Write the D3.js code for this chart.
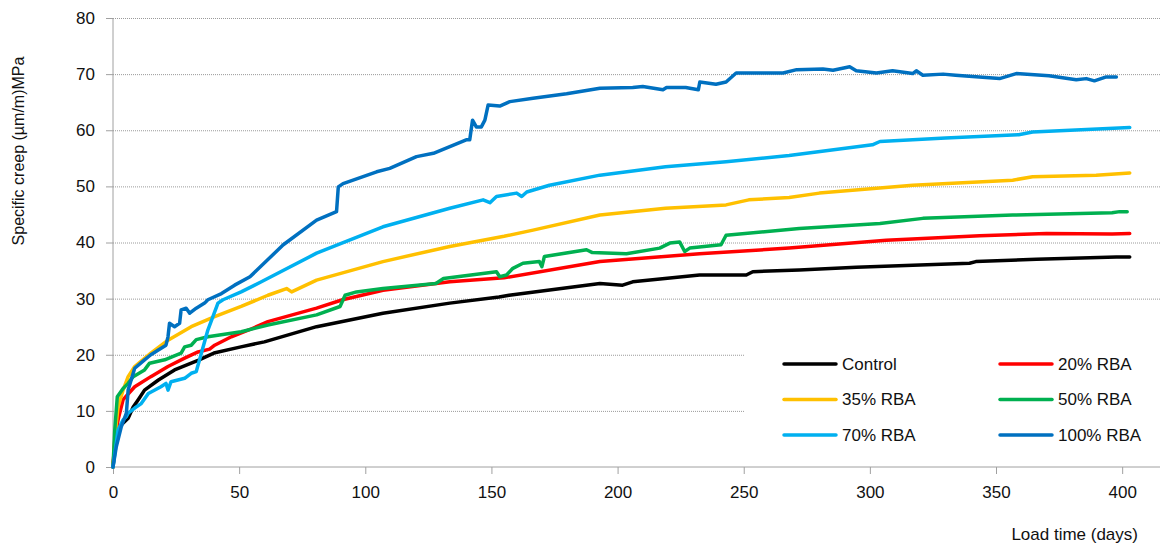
<!DOCTYPE html>
<meta charset="utf-8">
<script src="https://d3js.org/d3.v7.min.js"></script>
<style>
  body { margin: 0; background: #fff; }
  text { font-family: "Liberation Sans", Arial, sans-serif; fill: #111; }
</style>
<div id="chart"></div>
<script>

// data (day, specific creep)
const controlDays = [0, 1, 2.6, 6, 8, 10, 12.5, 18, 24.4, 33.7, 40, 50.7, 60, 80.7, 107, 133.5, 153, 157, 193, 202, 206, 232.5, 251, 253.6, 272, 294.6, 339.5, 342, 366, 397.7, 403];
const controlVals = [0, 5, 7.2, 8.7, 10.7, 12, 13.7, 15.5, 17.3, 19, 20.3, 21.4, 22.3, 25, 27.4, 29.2, 30.3, 30.6, 32.7, 32.4, 33, 34.2, 34.2, 34.8, 35.1, 35.6, 36.3, 36.6, 37, 37.4, 37.4];

const rba20Days = [0, 0.7, 2, 4, 8.6, 15, 21.8, 28.4, 33.7, 38.3, 40.3, 46.9, 54.3, 61.4, 80.7, 91, 107, 133.5, 155, 193, 232.5, 268, 306.5, 343.5, 370, 396, 403];
const rba20Vals = [0, 4.8, 8.4, 12, 14.3, 16.1, 17.9, 19.4, 20.5, 21, 21.7, 23.2, 24.5, 25.9, 28.3, 29.8, 31.5, 33, 33.7, 36.6, 38, 39, 40.4, 41.2, 41.6, 41.5, 41.6];

const rba35Days = [0, 1.3, 2, 4, 6, 8.6, 15, 21.8, 31, 40.3, 50.8, 61.4, 68.8, 70.8, 80.7, 107, 133.5, 155, 166.5, 193, 219, 243, 252, 268, 280, 317, 356.6, 364.5, 389.7, 403];
const rba35Vals = [0, 7.8, 10.7, 13.7, 16.1, 17.9, 20.3, 22.6, 25, 26.8, 28.6, 30.6, 31.8, 31.2, 33.3, 36.6, 39.3, 41.1, 42.2, 44.9, 46.1, 46.7, 47.6, 48, 48.8, 50.2, 51.1, 51.7, 52, 52.4];

const rba50Days = [0, 0.7, 1.7, 4, 6, 8, 12.5, 14.5, 20.5, 27, 28.4, 31, 33, 37.6, 50.8, 61.4, 80.7, 90, 92, 96.5, 107, 128, 131, 152, 153.3, 156, 158.5, 162.5, 169, 170, 171, 187.7, 190, 203.5, 216.7, 220.7, 224.6, 226.6, 228.6, 241, 243, 272, 304, 321, 356.6, 396, 399, 402];
const rba50Vals = [0, 6.6, 12.5, 14, 14.9, 16.1, 17.3, 18.5, 19.1, 20.3, 21.4, 21.7, 22.7, 23.2, 24.1, 25.3, 27.1, 28.6, 30.6, 31.2, 31.8, 32.7, 33.6, 34.8, 33.9, 34.2, 35.4, 36.3, 36.6, 35.7, 37.5, 38.7, 38.2, 38, 39, 39.9, 40.1, 38.4, 39, 39.6, 41.3, 42.5, 43.4, 44.3, 44.9, 45.3, 45.5, 45.5];

const rba70Days = [0, 2, 4, 5.3, 6, 8.6, 11.2, 14, 19, 21, 21.8, 23, 28.4, 31, 33, 34.3, 37.6, 41.6, 43.6, 50.8, 58.8, 80.7, 107, 133.5, 146.7, 149.4, 152, 160, 162, 164, 173, 193, 219, 243, 268, 301, 304, 330, 359, 364.5, 403];
const rba70Vals = [0, 6.6, 8.4, 9, 9.6, 10.5, 11.3, 13.1, 14.3, 14.9, 13.7, 15.2, 15.8, 16.7, 17, 19.1, 24.4, 29.2, 29.8, 31.2, 33, 38.1, 42.8, 46.1, 47.6, 47.1, 48.2, 48.8, 48.2, 49, 50.2, 52, 53.5, 54.4, 55.5, 57.4, 58, 58.6, 59.2, 59.7, 60.5];

const rba100Days = [0, 1.3, 3.3, 5.3, 6, 8.6, 12.5, 15, 17.8, 21, 21.8, 22.4, 24.4, 26.4, 27, 29, 30.4, 33, 36.3, 37.6, 43, 48.2, 54.3, 67.5, 80.7, 88.6, 89.3, 91.2, 104.5, 109.7, 120.3, 127, 140, 141.4, 142.5, 144, 146, 147.4, 148.7, 153.3, 157.3, 166.5, 179.8, 193, 206, 210, 218, 219.4, 227, 232, 232.6, 239, 243, 247, 252, 265.6, 271, 281.4, 285.4, 292, 294.6, 302.6, 309, 317, 318.4, 321, 329, 334, 351.4, 358, 371, 381.8, 385.8, 389, 393.7, 397.7];
const rba100Vals = [0, 3.6, 7.2, 9.6, 13.7, 17.6, 19.1, 20, 20.8, 21.7, 23.2, 25.6, 25, 25.6, 28, 28.3, 27.4, 28.3, 29.2, 29.8, 30.9, 32.4, 33.9, 39.6, 44, 45.5, 49.9, 50.5, 52.6, 53.2, 55.3, 55.9, 58.3, 58.3, 61.8, 60.6, 60.6, 61.8, 64.5, 64.3, 65.1, 65.7, 66.5, 67.5, 67.6, 67.8, 67.2, 67.6, 67.6, 67.2, 68.6, 68.2, 68.6, 70.2, 70.2, 70.2, 70.8, 70.9, 70.7, 71.3, 70.6, 70.2, 70.6, 70.1, 70.6, 69.8, 70, 69.8, 69.2, 70.1, 69.7, 69, 69.2, 68.8, 69.5, 69.5];

const seriesNames = ["Control", "20% RBA", "35% RBA", "50% RBA", "70% RBA", "100% RBA"];
const seriesColors = ["#000000", "#ff0000", "#ffc000", "#00b050", "#00b0f0", "#0070c0"];
const xTicks = [0, 50, 100, 150, 200, 250, 300, 350, 400];
const yTicks = [0, 10, 20, 30, 40, 50, 60, 70, 80];

const series = [
  [controlDays, controlVals],
  [rba20Days, rba20Vals],
  [rba35Days, rba35Vals],
  [rba50Days, rba50Vals],
  [rba70Days, rba70Vals],
  [rba100Days, rba100Vals]
].map((s, i) => ({
  name: seriesNames[i],
  color: seriesColors[i],
  points: s[0].map((d, j) => [d, s[1][j]])
}));

const W = 1169, H = 549;
const margin = {top: 18, right: 9, bottom: 82, left: 113};

const svg = d3.select("#chart").append("svg")
    .attr("width", W)
    .attr("height", H);

const x = d3.scaleLinear().domain([0, 415]).range([margin.left, W - margin.right]);
const y = d3.scaleLinear().domain([0, 80]).range([H - margin.bottom, margin.top]);

// dotted gridlines
svg.append("g")
  .selectAll("line")
  .data(yTicks.filter(t => t > 0))
  .join("line")
    .attr("x1", x(0))
    .attr("x2", x(415))
    .attr("y1", d => y(d) + 0.5)
    .attr("y2", d => y(d) + 0.5)
    .attr("stroke", "#9a9a9a")
    .attr("stroke-dasharray", "1,1");

// y axis
const yAxis = svg.append("g")
  .attr("transform", `translate(${x(0)},0)`)
  .call(d3.axisLeft(y).tickValues(yTicks).tickSize(7).tickPadding(11));
yAxis.selectAll("text").style("font-size", "17px").attr("fill", "#111");

// x axis
const xAxis = svg.append("g")
  .attr("transform", `translate(0,${y(0)})`)
  .call(d3.axisBottom(x).tickValues(xTicks).tickSize(7).tickPadding(12));
xAxis.selectAll("text").style("font-size", "17px").attr("fill", "#111");

svg.selectAll(".domain, .tick line").attr("stroke", "#a0a0a0");
svg.selectAll(".domain").attr("d", null);
yAxis.append("line").attr("x1", 0).attr("x2", 0).attr("y1", y(80)).attr("y2", y(0)).attr("stroke", "#a0a0a0");
xAxis.append("line").attr("x1", x(0)).attr("x2", x(415)).attr("y1", 0).attr("y2", 0).attr("stroke", "#a0a0a0");

// legend background hides the lower gridlines
const legend = svg.append("g");
legend.append("rect")
  .attr("x", 745).attr("y", 336)
  .attr("width", 415).attr("height", 124)
  .attr("fill", "#fff");

// lines
const line = d3.line().x(d => x(d[0])).y(d => y(d[1]));
svg.append("g")
  .selectAll("path")
  .data(series)
  .join("path")
    .attr("d", d => line(d.points))
    .attr("fill", "none")
    .attr("stroke", d => d.color)
    .attr("stroke-width", 3.5)
    .attr("stroke-linejoin", "round")
    .attr("stroke-linecap", "round");

const item = legend.selectAll("g.item")
  .data(series)
  .join("g")
    .attr("class", "item")
    .attr("transform", (d, i) => `translate(${i % 2 === 0 ? 784 : 1000},${364 + Math.floor(i / 2) * 35.5})`);
item.append("line")
  .attr("x1", 0).attr("x2", 52)
  .attr("stroke", d => d.color)
  .attr("stroke-width", 3.5)
  .attr("stroke-linecap", "round");
item.append("text")
  .attr("x", 58)
  .attr("dy", "0.35em")
  .style("font-size", "17px")
  .text(d => d.name);

// axis titles
svg.append("text")
  .attr("text-anchor", "end")
  .attr("x", 1138)
  .attr("y", 540)
  .style("font-size", "17px")
  .text("Load time (days)");

svg.append("text")
  .attr("text-anchor", "middle")
  .attr("transform", "translate(24,151) rotate(-90)")
  .style("font-size", "16px")
  .text("Specific creep (µm/m)MPa");

</script>
